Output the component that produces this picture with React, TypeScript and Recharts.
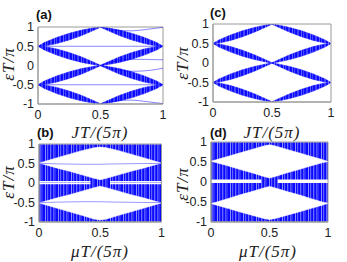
import React from 'react';
import { ComposedChart, Area, Line, XAxis, YAxis, ReferenceArea } from 'recharts';

// sample positions along the horizontal axis (JT/5pi or muT/5pi)
const xs = [0, 0.05, 0.15, 0.25, 0.35, 0.45, 0.5, 0.55, 0.65, 0.75, 0.85, 0.95, 1];
const xTicks = [0, 0.5, 1];
const yTicks = [-1, -0.5, 0, 0.5, 1];

// panel (a): four bands plus thin levels
const aTopLo = [0.5, 0.505, 0.57, 0.665, 0.78, 0.92, 0.995, 0.92, 0.78, 0.665, 0.57, 0.505, 0.5];
const aTopHi = [0.5, 0.595, 0.73, 0.835, 0.92, 0.98, 1, 0.98, 0.92, 0.835, 0.73, 0.595, 0.5];
const aUpVLo = [0.5, 0.405, 0.27, 0.165, 0.08, 0.02, -0.005, 0.02, 0.08, 0.165, 0.27, 0.405, 0.5];
const aUpVHi = [0.5, 0.495, 0.43, 0.335, 0.22, 0.08, 0.005, 0.08, 0.22, 0.335, 0.43, 0.495, 0.5];
const aLowLo = [-0.5, -0.495, -0.43, -0.335, -0.22, -0.08, -0.005, -0.08, -0.22, -0.335, -0.43, -0.495, -0.5];
const aLowHi = [-0.5, -0.405, -0.27, -0.165, -0.08, -0.02, 0.005, -0.02, -0.08, -0.165, -0.27, -0.405, -0.5];
const aBotLo = [-0.5, -0.595, -0.73, -0.835, -0.92, -0.98, -1, -0.98, -0.92, -0.835, -0.73, -0.595, -0.5];
const aBotHi = [-0.5, -0.505, -0.57, -0.665, -0.78, -0.92, -0.995, -0.92, -0.78, -0.665, -0.57, -0.505, -0.5];
const aFlatTop = [0.5, 0.5, 0.5, 0.5, 0.5, 0.5, 0.5, 0.5, 0.5, 0.5, 0.5, 0.5, 0.5];
const aFlatBot = [-0.5, -0.5, -0.5, -0.5, -0.5, -0.5, -0.5, -0.5, -0.5, -0.5, -0.5, -0.5, -0.5];
const aArcTop = [null, null, null, null, null, null, 1, 0.96, 0.91, 0.9, 0.93, 0.97, 0.99];
const aArcBot = [null, null, null, null, null, null, -1, -0.96, -0.91, -0.9, -0.93, -0.97, -0.99];
const aMidUp = [null, null, null, null, null, null, 0, 0.06, 0.13, 0.16, 0.16, 0.15, 0.15];
const aMidDown = [null, null, null, null, null, null, 0, -0.05, -0.12, -0.15, -0.14, -0.1, -0.07];

// panel (c): four bands only
const cTopLo = [0.5, 0.51, 0.58, 0.675, 0.79, 0.925, 0.995, 0.925, 0.79, 0.675, 0.58, 0.51, 0.5];
const cTopHi = [0.5, 0.59, 0.72, 0.825, 0.91, 0.975, 1, 0.975, 0.91, 0.825, 0.72, 0.59, 0.5];
const cUpVLo = [0.5, 0.41, 0.28, 0.175, 0.09, 0.025, -0.005, 0.025, 0.09, 0.175, 0.28, 0.41, 0.5];
const cUpVHi = [0.5, 0.49, 0.42, 0.325, 0.21, 0.075, 0.005, 0.075, 0.21, 0.325, 0.42, 0.49, 0.5];
const cLowLo = [-0.5, -0.49, -0.42, -0.325, -0.21, -0.075, -0.005, -0.075, -0.21, -0.325, -0.42, -0.49, -0.5];
const cLowHi = [-0.5, -0.41, -0.28, -0.175, -0.09, -0.025, 0.005, -0.025, -0.09, -0.175, -0.28, -0.41, -0.5];
const cBotLo = [-0.5, -0.59, -0.72, -0.825, -0.91, -0.975, -1, -0.975, -0.91, -0.825, -0.72, -0.59, -0.5];
const cBotHi = [-0.5, -0.51, -0.58, -0.675, -0.79, -0.925, -0.995, -0.925, -0.79, -0.675, -0.58, -0.51, -0.5];

// panel (b): filled spectrum with two gaps
const bFill = [-0.985, 0.99];
const bUpLo = [0.51, 0.47, 0.38, 0.3, 0.21, 0.12, 0.085, 0.12, 0.21, 0.3, 0.38, 0.47, 0.51];
const bUpHi = [0.51, 0.555, 0.65, 0.74, 0.83, 0.905, 0.92, 0.905, 0.83, 0.74, 0.65, 0.555, 0.51];
const bLowLo = [-0.51, -0.555, -0.65, -0.74, -0.83, -0.925, -0.95, -0.925, -0.83, -0.74, -0.65, -0.555, -0.51];
const bLowHi = [-0.51, -0.47, -0.38, -0.3, -0.21, -0.12, -0.085, -0.12, -0.21, -0.3, -0.38, -0.47, -0.51];
const bInnerTop = [0.51, 0.5, 0.49, 0.485, 0.48, 0.48, 0.48, 0.485, 0.49, 0.495, 0.5, 0.5, 0.51];
const bInnerBot = [-0.51, -0.5, -0.49, -0.485, -0.48, -0.48, -0.48, -0.485, -0.49, -0.495, -0.5, -0.5, -0.51];
const bGapX = [[0, 0.42], [0.58, 1]];
const bGapY = [[0.015, 0.05], [-0.035, 0.005]];

// panel (d)
const dFill = [-0.985, 0.99];
const dUpLo = [0.52, 0.48, 0.4, 0.31, 0.23, 0.14, 0.1, 0.14, 0.23, 0.31, 0.4, 0.48, 0.51];
const dUpHi = [0.52, 0.56, 0.645, 0.73, 0.815, 0.9, 0.93, 0.9, 0.815, 0.73, 0.645, 0.56, 0.51];
const dLowLo = [-0.54, -0.58, -0.665, -0.75, -0.83, -0.91, -0.94, -0.91, -0.83, -0.75, -0.665, -0.58, -0.53];
const dLowHi = [-0.54, -0.5, -0.41, -0.32, -0.24, -0.15, -0.11, -0.15, -0.24, -0.32, -0.41, -0.5, -0.53];
const dGapX = [[0, 0.43], [0.57, 1]];
const dGapY = [[-0.025, 0.06]];

const rowsA = xs.map((x, i) => ({
  x,
  top: [aTopLo[i], aTopHi[i]],
  upV: [aUpVLo[i], aUpVHi[i]],
  low: [aLowLo[i], aLowHi[i]],
  bot: [aBotLo[i], aBotHi[i]],
  flatTop: aFlatTop[i],
  flatBot: aFlatBot[i],
  arcTop: aArcTop[i],
  arcBot: aArcBot[i],
  midUp: aMidUp[i],
  midDown: aMidDown[i],
}));

const rowsC = xs.map((x, i) => ({
  x,
  top: [cTopLo[i], cTopHi[i]],
  upV: [cUpVLo[i], cUpVHi[i]],
  low: [cLowLo[i], cLowHi[i]],
  bot: [cBotLo[i], cBotHi[i]],
}));

const rowsB = xs.map((x, i) => ({
  x,
  fill: bFill,
  up: [bUpLo[i], bUpHi[i]],
  low: [bLowLo[i], bLowHi[i]],
  innerTop: bInnerTop[i],
  innerBot: bInnerBot[i],
}));

const rowsD = xs.map((x, i) => ({
  x,
  fill: dFill,
  up: [dUpLo[i], dUpHi[i]],
  low: [dLowLo[i], dLowHi[i]],
}));

const AXIS = '#9a9a9a';
const tickStyle = { fill: '#222', fontSize: 12.5, fontFamily: '"Liberation Sans", Arial, sans-serif' };
const mathStyle: React.CSSProperties = {
  position: 'absolute',
  fontFamily: '"Liberation Serif", "Times New Roman", serif',
  fontStyle: 'italic',
  fontSize: 17,
  color: '#222',
  whiteSpace: 'nowrap',
  letterSpacing: 1,
};
const tagStyle: React.CSSProperties = {
  position: 'absolute',
  fontFamily: '"Liberation Sans", Arial, sans-serif',
  fontWeight: 'bold',
  fontSize: 13,
  color: '#111',
  whiteSpace: 'nowrap',
};

// dense eigenvalue curves show up as uneven vertical streaks; mimic them with a stripe pattern
function Streaks({ id, dense }: { id: string; dense: boolean }) {
  const w = dense ? 13 : 9;
  return (
    <defs>
      <pattern id={id} patternUnits="userSpaceOnUse" width={w} height={4}>
        <rect x={0} y={0} width={w} height={4} fill="#0a0aff" />
        {dense ? (
          <>
            <rect x={1} y={0} width={1} height={4} fill="#8c8cff" />
            <rect x={3.5} y={0} width={0.6} height={4} fill="#b8b8ff" />
            <rect x={6} y={0} width={1.3} height={4} fill="#6a6aff" />
            <rect x={9.5} y={0} width={0.8} height={4} fill="#a0a0ff" />
            <rect x={11.5} y={0} width={0.5} height={4} fill="#5050ff" />
          </>
        ) : (
          <>
            <rect x={1.5} y={0} width={1} height={4} fill="#7a7aff" />
            <rect x={5} y={0} width={0.6} height={4} fill="#9a9aff" />
            <rect x={7.3} y={0} width={0.8} height={4} fill="#5a5aff" />
          </>
        )}
      </pattern>
    </defs>
  );
}

function band(key: string, color: string) {
  return (
    <Area
      key={key}
      dataKey={key}
      type="linear"
      fill={color}
      fillOpacity={1}
      stroke={color}
      strokeWidth={0.6}
      dot={false}
      activeDot={false}
      isAnimationActive={false}
    />
  );
}

function thin(key: string, opacity = 0.6) {
  return (
    <Line
      key={key}
      dataKey={key}
      type="monotone"
      stroke="#0000ff"
      strokeOpacity={opacity}
      strokeWidth={0.8}
      dot={false}
      activeDot={false}
      isAnimationActive={false}
    />
  );
}

type Box = { px: number; py: number; pw: number; ph: number };

function Panel({ box, data, children }: { box: Box; data: any[]; children: React.ReactNode }) {
  const width = box.pw + 42;
  const height = box.ph + 30;
  return (
    <div style={{ position: 'absolute', left: box.px - 34, top: box.py - 8 }}>
      <ComposedChart width={width} height={height} data={data} margin={{ top: 8, left: 4, right: 8, bottom: 2 }}>
        <XAxis
          dataKey="x"
          type="number"
          domain={[0, 1]}
          ticks={xTicks}
          interval={0}
          height={20}
          tickSize={0}
          tickMargin={6}
          tick={tickStyle}
          axisLine={{ stroke: AXIS }}
        />
        <YAxis
          type="number"
          domain={[-1, 1]}
          ticks={yTicks}
          interval={0}
          allowDataOverflow
          width={30}
          tickSize={0}
          tickMargin={4}
          tick={tickStyle}
          axisLine={{ stroke: AXIS }}
        />
        {children}
        <ReferenceArea x1={0} x2={1} y1={-1} y2={1} fill="none" stroke={AXIS} strokeWidth={1} ifOverflow="visible" />
      </ComposedChart>
    </div>
  );
}

function Label({ x, y, text, rotate = false }: { x: number; y: number; text: string; rotate?: boolean }) {
  return (
    <div
      style={{
        ...mathStyle,
        left: x,
        top: y,
        transform: `translate(-50%, -50%)${rotate ? ' rotate(-90deg)' : ''}`,
      }}
    >
      {text}
    </div>
  );
}

export default function App() {
  return (
    <div style={{ position: 'absolute', left: 0, top: 0, width: 347, height: 262, background: '#fff', overflow: 'hidden' }}>
      <Panel box={{ px: 38, py: 27, pw: 125, ph: 77 }} data={rowsA}>
        {[
          <Streaks key="defs" id="streakA" dense={false} />,
          band('top', 'url(#streakA)'),
          band('upV', 'url(#streakA)'),
          band('low', 'url(#streakA)'),
          band('bot', 'url(#streakA)'),
          thin('flatTop'),
          thin('flatBot'),
          thin('arcTop'),
          thin('arcBot'),
          thin('midUp'),
          thin('midDown'),
        ]}
      </Panel>
      <Panel box={{ px: 213, py: 24, pw: 118, ph: 78 }} data={rowsC}>
        {[
          <Streaks key="defs" id="streakC" dense={false} />,
          band('top', 'url(#streakC)'),
          band('upV', 'url(#streakC)'),
          band('low', 'url(#streakC)'),
          band('bot', 'url(#streakC)'),
        ]}
      </Panel>
      <Panel box={{ px: 39, py: 143.5, pw: 122.5, ph: 78 }} data={rowsB}>
        {[
          <Streaks key="defs" id="streakB" dense />,
          band('fill', 'url(#streakB)'),
          band('up', '#ffffff'),
          band('low', '#ffffff'),
          ...bGapX.flatMap((gx, i) =>
            bGapY.map((gy, j) => (
              <ReferenceArea key={`g${i}${j}`} x1={gx[0]} x2={gx[1]} y1={gy[0]} y2={gy[1]} fill="#fff" fillOpacity={1} stroke="none" />
            ))
          ),
          thin('innerTop', 0.5),
          thin('innerBot', 0.5),
        ]}
      </Panel>
      <Panel box={{ px: 211, py: 142, pw: 117, ph: 80 }} data={rowsD}>
        {[
          <Streaks key="defs" id="streakD" dense />,
          band('fill', 'url(#streakD)'),
          band('up', '#ffffff'),
          band('low', '#ffffff'),
          ...dGapX.flatMap((gx, i) =>
            dGapY.map((gy, j) => (
              <ReferenceArea key={`g${i}${j}`} x1={gx[0]} x2={gx[1]} y1={gy[0]} y2={gy[1]} fill="#fff" fillOpacity={1} stroke="none" />
            ))
          ),
        ]}
      </Panel>

      <div style={{ ...tagStyle, left: 36, top: 7 }}>(a)</div>
      <div style={{ ...tagStyle, left: 210, top: 5 }}>(c)</div>
      <div style={{ ...tagStyle, left: 37, top: 125 }}>(b)</div>
      <div style={{ ...tagStyle, left: 210, top: 125 }}>(d)</div>

      <Label x={100} y={133} text="JT/(5π)" />
      <Label x={272} y={133} text="JT/(5π)" />
      <Label x={100} y={252} text="μT/(5π)" />
      <Label x={268} y={252} text="μT/(5π)" />
      <Label x={9} y={64} text="εT/π" rotate />
      <Label x={183} y={63} text="εT/π" rotate />
      <Label x={9} y={182} text="εT/π" rotate />
      <Label x={183} y={184} text="εT/π" rotate />
    </div>
  );
}
